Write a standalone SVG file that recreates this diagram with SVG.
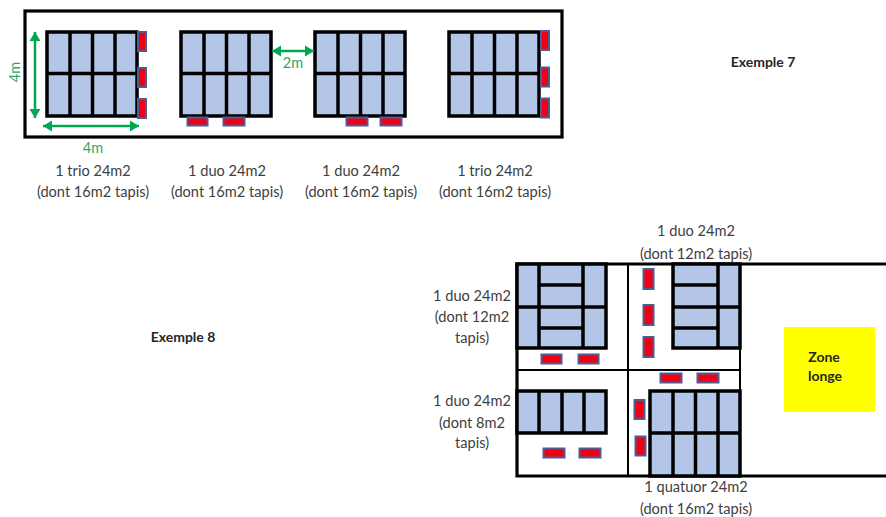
<svg xmlns="http://www.w3.org/2000/svg" width="886" height="517" viewBox="0 0 886 517">
<defs>
<marker id="ah" markerUnits="userSpaceOnUse" markerWidth="10" markerHeight="12" refX="9" refY="6" orient="auto-start-reverse"><path d="M0 0.500L9 6L0 11.500Z" fill="#00a651"/></marker>
</defs>
<style>
text{font-family:Lato,"Liberation Sans",sans-serif;fill:#404040;text-anchor:middle}
.l{font-size:14.6px}
.b{font-size:14px;font-weight:700;fill:#262626}
.g{font-size:14.5px;fill:#2fa866}
.f{fill:none;stroke:#000;stroke-width:3.200}
.t{fill:none;stroke:#000;stroke-width:2}
.c{fill:#b4c6e7;stroke:#000;stroke-width:3.500}
.i{fill:none;stroke:#000;stroke-width:3.500}
.r{fill:#f00012;stroke:#4a5f96;stroke-width:2}
.a{fill:none;stroke:#00a651;stroke-width:2.500;marker-start:url(#ah);marker-end:url(#ah)}
</style>
<rect width="886" height="517" fill="#fff"/>
<g id="frames">
<rect id="frame-7" class="f" x="25" y="11" width="537" height="126"/>
<path id="frame-8" class="f" d="M886 264H517V476H886"/>
<path class="t" d="M628 264V476M517 370H740M740 264V476"/>
</g>
<g id="stand-7a">
<rect class="c" x="47" y="32" width="90" height="84"/>
<path class="i" d="M70 32V116M92.500 32V116M115 32V116M47 73.500H137"/>
<rect class="r" x="138" y="32" width="8" height="19"/><rect class="r" x="138" y="68" width="8" height="19"/><rect class="r" x="138" y="99" width="8" height="19"/>
</g>
<g id="stand-7b">
<rect class="c" x="181" y="32" width="90" height="84"/>
<path class="i" d="M204 32V116M226.500 32V116M249 32V116M181 73.500H271"/>
<rect class="r" x="187.500" y="117.500" width="20" height="8"/><rect class="r" x="223.500" y="117.500" width="21" height="8"/>
</g>
<g id="stand-7c">
<rect class="c" x="315" y="32" width="90" height="84"/>
<path class="i" d="M338 32V116M360.500 32V116M383 32V116M315 73.500H405"/>
<rect class="r" x="346.500" y="117.500" width="21" height="8"/><rect class="r" x="380.500" y="117.500" width="21" height="8"/>
</g>
<g id="stand-7d">
<rect class="c" x="449" y="32" width="90" height="84"/>
<path class="i" d="M472 32V116M494.500 32V116M517 32V116M449 73.500H539"/>
<rect class="r" x="541" y="31" width="8" height="19"/><rect class="r" x="541" y="67.500" width="8" height="19"/><rect class="r" x="541" y="98.500" width="8" height="19"/>
</g>
<g id="connectors">
<path class="a" d="M35 32V118"/>
<path class="a" d="M43 126H139"/>
<path class="a" d="M272 51H314"/>
</g>
<g id="dimension-labels">
<text class="g" transform="translate(20 72) rotate(-90)">4m</text>
<text class="g" x="93" y="153">4m</text>
<text class="g" x="293" y="68">2m</text>
</g>
<g id="labels-7">
<text class="l" x="93" y="176">1 trio 24m2</text><text class="l" x="93" y="197">(dont 16m2 tapis)</text>
<text class="l" x="227" y="176">1 duo 24m2</text><text class="l" x="227" y="197">(dont 16m2 tapis)</text>
<text class="l" x="361" y="176">1 duo 24m2</text><text class="l" x="361" y="197">(dont 16m2 tapis)</text>
<text class="l" x="495" y="176">1 trio 24m2</text><text class="l" x="495" y="197">(dont 16m2 tapis)</text>
<text class="b" x="763" y="67">Exemple 7</text>
</g>
<g id="stand-8a">
<rect class="c" x="517" y="264" width="89" height="84"/>
<path class="i" d="M539 264V348M583 264V348M517 307H606M539 285H583M539 328H583"/>
<rect class="r" x="541.500" y="354.500" width="20" height="9"/><rect class="r" x="578.500" y="354.500" width="20" height="9"/>
</g>
<g id="stand-8b">
<rect class="c" x="673" y="264" width="67" height="84"/>
<path class="i" d="M718 264V348M673 307H740M673 285H718M673 328H718"/>
<rect class="r" x="643.500" y="269" width="10" height="20"/><rect class="r" x="643.500" y="305" width="10" height="20"/><rect class="r" x="643.500" y="337" width="10" height="20"/>
<rect class="r" x="660.500" y="373.500" width="21" height="9"/><rect class="r" x="697.500" y="373.500" width="21" height="9"/>
</g>
<g id="stand-8c">
<rect class="c" x="517" y="391" width="89" height="42"/>
<path class="i" d="M539 391V433M562 391V433M584 391V433"/>
<rect class="r" x="543.500" y="448.500" width="21" height="9"/><rect class="r" x="579.500" y="448.500" width="21" height="9"/>
</g>
<g id="stand-8d">
<rect class="c" x="650" y="391" width="90" height="85"/>
<path class="i" d="M673 391V476M695.500 391V476M718 391V476M650 433H740"/>
<rect class="r" x="634.500" y="400" width="10" height="19"/><rect class="r" x="635.500" y="436.500" width="10" height="19"/>
</g>
<g id="zone-longe">
<rect x="784" y="327" width="91" height="85" fill="#ff0"/>
<text class="b" x="824" y="362">Zone</text><text class="b" x="825" y="381">longe</text>
</g>
<g id="labels-8">
<text class="b" x="183" y="342">Exemple 8</text>
<text class="l" x="696" y="236">1 duo 24m2</text><text class="l" x="696" y="259">(dont 12m2 tapis)</text>
<text class="l" x="472" y="301">1 duo 24m2</text><text class="l" x="472" y="322">(dont 12m2</text><text class="l" x="472" y="343">tapis)</text>
<text class="l" x="472" y="406">1 duo 24m2</text><text class="l" x="472" y="428">(dont 8m2</text><text class="l" x="472" y="448">tapis)</text>
<text class="l" x="696" y="492">1 quatuor 24m2</text><text class="l" x="696" y="514">(dont 16m2 tapis)</text>
</g>
</svg>
